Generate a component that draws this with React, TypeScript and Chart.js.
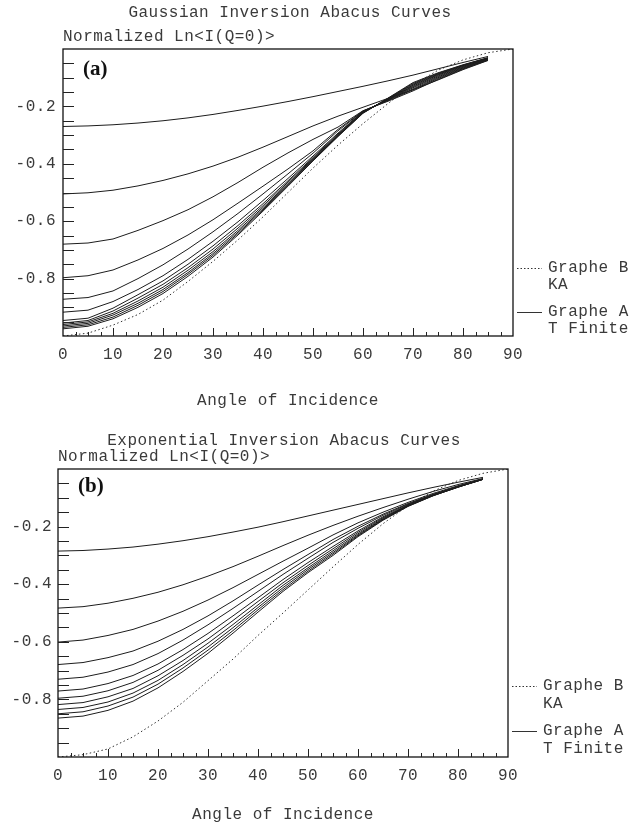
import React, { useEffect, useRef } from 'react';
import { Chart, registerables } from 'chart.js';

Chart.register(...registerables);

// ---------- data ----------
const ANGLES = [0, 5, 10, 15, 20, 25, 30, 35, 40, 45, 50, 55, 60, 65, 70, 75, 80, 85];
const KA_ANGLES = [0, 5, 10, 15, 20, 25, 30, 35, 40, 45, 50, 55, 60, 65, 70, 75, 80, 85, 90];

// (a) Gaussian
const GAUSS_KA = [-1.0, -0.99, -0.962, -0.925, -0.875, -0.81, -0.74, -0.665, -0.585, -0.5, -0.415, -0.335, -0.26, -0.19, -0.125, -0.074, -0.038, -0.013, 0.0];
const GAUSS_1 = [-0.27, -0.268, -0.264, -0.258, -0.25, -0.24, -0.228, -0.214, -0.199, -0.183, -0.166, -0.148, -0.13, -0.111, -0.091, -0.069, -0.047, -0.026];
const GAUSS_2 = [-0.505, -0.501, -0.492, -0.477, -0.458, -0.435, -0.408, -0.377, -0.342, -0.305, -0.268, -0.234, -0.203, -0.172, -0.142, -0.108, -0.072, -0.04];
const GAUSS_3 = [-0.68, -0.676, -0.662, -0.632, -0.598, -0.56, -0.515, -0.465, -0.412, -0.362, -0.315, -0.272, -0.215, -0.182, -0.146, -0.106, -0.07, -0.039];
const GAUSS_4 = [-0.797, -0.79, -0.77, -0.735, -0.695, -0.648, -0.595, -0.537, -0.478, -0.418, -0.355, -0.28, -0.216, -0.18, -0.142, -0.103, -0.068, -0.038];
const GAUSS_5 = [-0.872, -0.866, -0.843, -0.8, -0.752, -0.697, -0.637, -0.573, -0.505, -0.435, -0.363, -0.285, -0.217, -0.178, -0.139, -0.1, -0.066, -0.037];
const GAUSS_6 = [-0.917, -0.91, -0.88, -0.838, -0.79, -0.733, -0.67, -0.602, -0.528, -0.451, -0.373, -0.293, -0.218, -0.177, -0.135, -0.097, -0.064, -0.036];
const GAUSS_7 = [-0.946, -0.938, -0.903, -0.856, -0.808, -0.75, -0.686, -0.615, -0.539, -0.459, -0.378, -0.296, -0.219, -0.176, -0.132, -0.094, -0.062, -0.035];
const GAUSS_8 = [-0.955, -0.946, -0.913, -0.868, -0.82, -0.762, -0.697, -0.624, -0.546, -0.464, -0.381, -0.299, -0.22, -0.175, -0.129, -0.091, -0.06, -0.034];
const GAUSS_9 = [-0.96, -0.951, -0.921, -0.878, -0.83, -0.771, -0.706, -0.632, -0.552, -0.469, -0.384, -0.301, -0.221, -0.174, -0.126, -0.089, -0.058, -0.033];
const GAUSS_10 = [-0.965, -0.956, -0.927, -0.886, -0.838, -0.779, -0.713, -0.638, -0.557, -0.472, -0.386, -0.302, -0.222, -0.173, -0.123, -0.087, -0.057, -0.032];
const GAUSS_11 = [-0.97, -0.961, -0.934, -0.893, -0.845, -0.785, -0.719, -0.643, -0.561, -0.475, -0.388, -0.304, -0.223, -0.172, -0.12, -0.085, -0.056, -0.031];
const GAUSS_12 = [-0.975, -0.966, -0.94, -0.9, -0.852, -0.792, -0.725, -0.648, -0.565, -0.478, -0.39, -0.305, -0.224, -0.171, -0.117, -0.083, -0.055, -0.03];

// (b) Exponential
const EXPO_KA = [-1.0, -0.992, -0.972, -0.93, -0.875, -0.81, -0.735, -0.66, -0.578, -0.5, -0.42, -0.34, -0.262, -0.19, -0.127, -0.077, -0.04, -0.015, 0.0];
const EXPO_1 = [-0.285, -0.283, -0.278, -0.271, -0.261, -0.249, -0.235, -0.219, -0.202, -0.183, -0.163, -0.143, -0.123, -0.103, -0.083, -0.064, -0.046, -0.029];
const EXPO_2 = [-0.483, -0.478, -0.466, -0.449, -0.428, -0.402, -0.372, -0.339, -0.303, -0.266, -0.23, -0.196, -0.164, -0.134, -0.105, -0.078, -0.054, -0.033];
const EXPO_3 = [-0.601, -0.594, -0.578, -0.557, -0.528, -0.494, -0.455, -0.412, -0.366, -0.32, -0.275, -0.229, -0.187, -0.15, -0.116, -0.085, -0.058, -0.034];
const EXPO_4 = [-0.679, -0.672, -0.655, -0.632, -0.598, -0.557, -0.51, -0.458, -0.403, -0.349, -0.297, -0.245, -0.199, -0.157, -0.12, -0.088, -0.06, -0.035];
const EXPO_5 = [-0.73, -0.723, -0.705, -0.679, -0.641, -0.594, -0.541, -0.484, -0.425, -0.366, -0.31, -0.255, -0.206, -0.161, -0.122, -0.089, -0.061, -0.035];
const EXPO_6 = [-0.771, -0.764, -0.745, -0.717, -0.677, -0.627, -0.571, -0.51, -0.447, -0.384, -0.325, -0.269, -0.215, -0.166, -0.124, -0.09, -0.062, -0.035];
const EXPO_7 = [-0.796, -0.789, -0.77, -0.741, -0.699, -0.647, -0.59, -0.526, -0.46, -0.395, -0.335, -0.277, -0.22, -0.169, -0.126, -0.091, -0.062, -0.035];
const EXPO_8 = [-0.818, -0.811, -0.791, -0.762, -0.718, -0.665, -0.605, -0.54, -0.472, -0.404, -0.343, -0.284, -0.225, -0.172, -0.127, -0.092, -0.062, -0.036];
const EXPO_9 = [-0.835, -0.828, -0.809, -0.778, -0.734, -0.679, -0.618, -0.551, -0.481, -0.412, -0.349, -0.29, -0.229, -0.174, -0.128, -0.092, -0.063, -0.036];
const EXPO_10 = [-0.85, -0.843, -0.823, -0.792, -0.747, -0.691, -0.629, -0.561, -0.489, -0.419, -0.355, -0.295, -0.232, -0.176, -0.129, -0.093, -0.063, -0.036];
const EXPO_11 = [-0.865, -0.858, -0.838, -0.806, -0.76, -0.703, -0.64, -0.57, -0.497, -0.425, -0.36, -0.3, -0.235, -0.178, -0.13, -0.093, -0.063, -0.036];

const X_TICK_LABELS = ['0', '10', '20', '30', '40', '50', '60', '70', '80', '90'];
const Y_TICK_VALUES = [-0.2, -0.4, -0.6, -0.8];
const Y_TICK_LABELS = ['-0.2', '-0.4', '-0.6', '-0.8'];

const TITLE_A = 'Gaussian Inversion Abacus Curves';
const TITLE_B = 'Exponential Inversion Abacus Curves';
const Y_TITLE = 'Normalized Ln<I(Q=0)>';
const X_TITLE = 'Angle of Incidence';
const TAG_A = '(a)';
const TAG_B = '(b)';
const LEGEND_KA = ['Graphe B', 'KA'];
const LEGEND_T = ['Graphe A', 'T Finite'];

// ---------- styling ----------
const FONT = '"Liberation Mono", "DejaVu Sans Mono", monospace';
const FONT_SIZE = 16;
const SPACING = '0.5px';
const TEXT_COLOR = '#3a3a3a';
const LINE_COLOR = '#1c1c1c';

type Spec = {
  top: number;
  title: string;
  tag: string;
  curves: number[][];
  ka: number[];
  left: number;
  right: number;
  plotTop: number;
  plotBottom: number;
  titleX: number;
  titleY: number;
  yTitleY: number;
  tagY: number;
  xTitleY: number;
  legendX: number;
  legendY: number[];
  yPad: number;
};

const SPEC_A: Spec = {
  top: 0,
  title: TITLE_A,
  tag: TAG_A,
  curves: [GAUSS_1, GAUSS_2, GAUSS_3, GAUSS_4, GAUSS_5, GAUSS_6, GAUSS_7, GAUSS_8, GAUSS_9, GAUSS_10, GAUSS_11, GAUSS_12],
  ka: GAUSS_KA,
  left: 63,
  right: 513,
  plotTop: 49,
  plotBottom: 336,
  titleX: 290,
  titleY: 13,
  yTitleY: 37,
  tagY: 70,
  xTitleY: 401,
  legendX: 517,
  legendY: [268, 285, 312, 329],
  yPad: 7,
};

const SPEC_B: Spec = {
  top: 413,
  title: TITLE_B,
  tag: TAG_B,
  curves: [EXPO_1, EXPO_2, EXPO_3, EXPO_4, EXPO_5, EXPO_6, EXPO_7, EXPO_8, EXPO_9, EXPO_10, EXPO_11],
  ka: EXPO_KA,
  left: 58,
  right: 508,
  plotTop: 56,
  plotBottom: 344,
  titleX: 284,
  titleY: 28,
  yTitleY: 44,
  tagY: 74,
  xTitleY: 402,
  legendX: 512,
  legendY: [273, 291, 318, 336],
  yPad: 6,
};

const W = 639;
const H = 413;

function buildConfig(spec: Spec): any {
  const datasets: any[] = spec.curves.map((vals, i) => ({
    label: 'T ' + (i + 1),
    data: ANGLES.map((a, j) => ({ x: a, y: vals[j] })),
    borderColor: LINE_COLOR,
    borderWidth: 1,
    pointRadius: 0,
    tension: 0,
    fill: false,
  }));
  datasets.push({
    label: 'KA',
    data: KA_ANGLES.map((a, j) => ({ x: a, y: spec.ka[j] })),
    borderColor: '#333',
    borderWidth: 1,
    borderDash: [1.5, 2.5],
    pointRadius: 0,
    tension: 0,
    fill: false,
  });

  const decor = {
    id: 'decor',
    beforeDraw(chart: any) {
      chart.ctx.letterSpacing = SPACING;
    },
    afterDraw(chart: any) {
      const ctx = chart.ctx;
      const area = chart.chartArea;
      const xs = chart.scales.x;
      const ys = chart.scales.y;
      ctx.save();
      // frame
      ctx.strokeStyle = '#111';
      ctx.lineWidth = 1.3;
      ctx.strokeRect(area.left, area.top, area.right - area.left, area.bottom - area.top);
      // tick marks (inside)
      ctx.lineWidth = 1;
      ctx.strokeStyle = '#222';
      ys.ticks.forEach((t: any) => {
        if (t.value <= -0.999 || t.value >= -0.001) return;
        const y = Math.round(ys.getPixelForValue(t.value)) + 0.5;
        ctx.beginPath();
        ctx.moveTo(area.left, y);
        ctx.lineTo(area.left + 11, y);
        ctx.stroke();
      });
      xs.ticks.forEach((t: any) => {
        if (t.value <= 0.01 || t.value >= 89.99) return;
        const major = Math.abs(t.value / 10 - Math.round(t.value / 10)) < 1e-6;
        const x = Math.round(xs.getPixelForValue(t.value)) + 0.5;
        ctx.beginPath();
        ctx.moveTo(x, area.bottom);
        ctx.lineTo(x, area.bottom - (major ? 8 : 4));
        ctx.stroke();
      });
      // texts
      ctx.letterSpacing = SPACING;
      ctx.fillStyle = TEXT_COLOR;
      ctx.font = `${FONT_SIZE}px ${FONT}`;
      ctx.textBaseline = 'middle';
      ctx.textAlign = 'center';
      ctx.fillText(spec.title, spec.titleX, spec.titleY);
      ctx.fillText(X_TITLE, (area.left + area.right) / 2, spec.xTitleY);
      ctx.textAlign = 'left';
      ctx.fillText(Y_TITLE, area.left, spec.yTitleY);
      // legend
      const lx = spec.legendX;
      ctx.fillText(LEGEND_KA[0], lx + 31, spec.legendY[0]);
      ctx.fillText(LEGEND_KA[1], lx + 31, spec.legendY[1]);
      ctx.fillText(LEGEND_T[0], lx + 31, spec.legendY[2]);
      ctx.fillText(LEGEND_T[1], lx + 31, spec.legendY[3]);
      ctx.strokeStyle = '#333';
      ctx.lineWidth = 1;
      ctx.setLineDash([1.5, 2]);
      ctx.beginPath();
      ctx.moveTo(lx, spec.legendY[0] + 0.5);
      ctx.lineTo(lx + 25, spec.legendY[0] + 0.5);
      ctx.stroke();
      ctx.setLineDash([]);
      ctx.beginPath();
      ctx.moveTo(lx, spec.legendY[2] + 0.5);
      ctx.lineTo(lx + 25, spec.legendY[2] + 0.5);
      ctx.stroke();
      // panel tag
      ctx.letterSpacing = '0px';
      ctx.fillStyle = '#111';
      ctx.font = 'bold 21px "Liberation Serif", "DejaVu Serif", serif';
      ctx.fillText(spec.tag, area.left + 20, spec.tagY);
      ctx.restore();
      ctx.letterSpacing = '0px';
    },
  };

  return {
    type: 'line',
    data: { datasets },
    options: {
      responsive: false,
      animation: false,
      events: [],
      layout: {
        padding: { left: 0, right: W - spec.right, top: spec.plotTop, bottom: 0 },
      },
      plugins: {
        legend: { display: false },
        tooltip: { enabled: false },
        title: { display: false },
      },
      scales: {
        x: {
          type: 'linear',
          min: 0,
          max: 90,
          afterFit: (scale: any) => {
            scale.height = H - spec.plotBottom;
          },
          grid: { display: false, drawTicks: false },
          border: { display: false },
          ticks: {
            stepSize: 2.5,
            autoSkip: false,
            maxRotation: 0,
            padding: 9,
            color: TEXT_COLOR,
            font: { family: FONT, size: FONT_SIZE },
            callback: (v: number) => {
              const idx = X_TICK_LABELS.indexOf(String(Math.round(v)));
              return Math.abs(v - Math.round(v)) < 1e-6 && Math.round(v) % 10 === 0 && idx >= 0 ? X_TICK_LABELS[idx] : '';
            },
          },
        },
        y: {
          type: 'linear',
          min: -1,
          max: 0,
          afterFit: (scale: any) => {
            scale.width = spec.left;
          },
          grid: { display: false, drawTicks: false },
          border: { display: false },
          ticks: {
            stepSize: 0.05,
            autoSkip: false,
            padding: spec.yPad,
            color: TEXT_COLOR,
            font: { family: FONT, size: FONT_SIZE },
            callback: (v: number) => {
              const idx = Y_TICK_VALUES.findIndex((t) => Math.abs(t - v) < 1e-6);
              return idx >= 0 ? Y_TICK_LABELS[idx] : '';
            },
          },
        },
      },
    },
    plugins: [decor],
  };
}

function AbacusChart({ spec }: { spec: Spec }) {
  const ref = useRef<HTMLCanvasElement | null>(null);
  useEffect(() => {
    if (!ref.current) return;
    const chart = new Chart(ref.current, buildConfig(spec));
    return () => chart.destroy();
  }, [spec]);
  return (
    <canvas
      ref={ref}
      width={W}
      height={H}
      style={{ position: 'absolute', left: 0, top: spec.top, width: W, height: H }}
    />
  );
}

export default function App() {
  return (
    <div style={{ position: 'absolute', left: 0, top: 0, width: W, height: 826, background: '#fff' }}>
      <AbacusChart spec={SPEC_A} />
      <AbacusChart spec={SPEC_B} />
    </div>
  );
}
